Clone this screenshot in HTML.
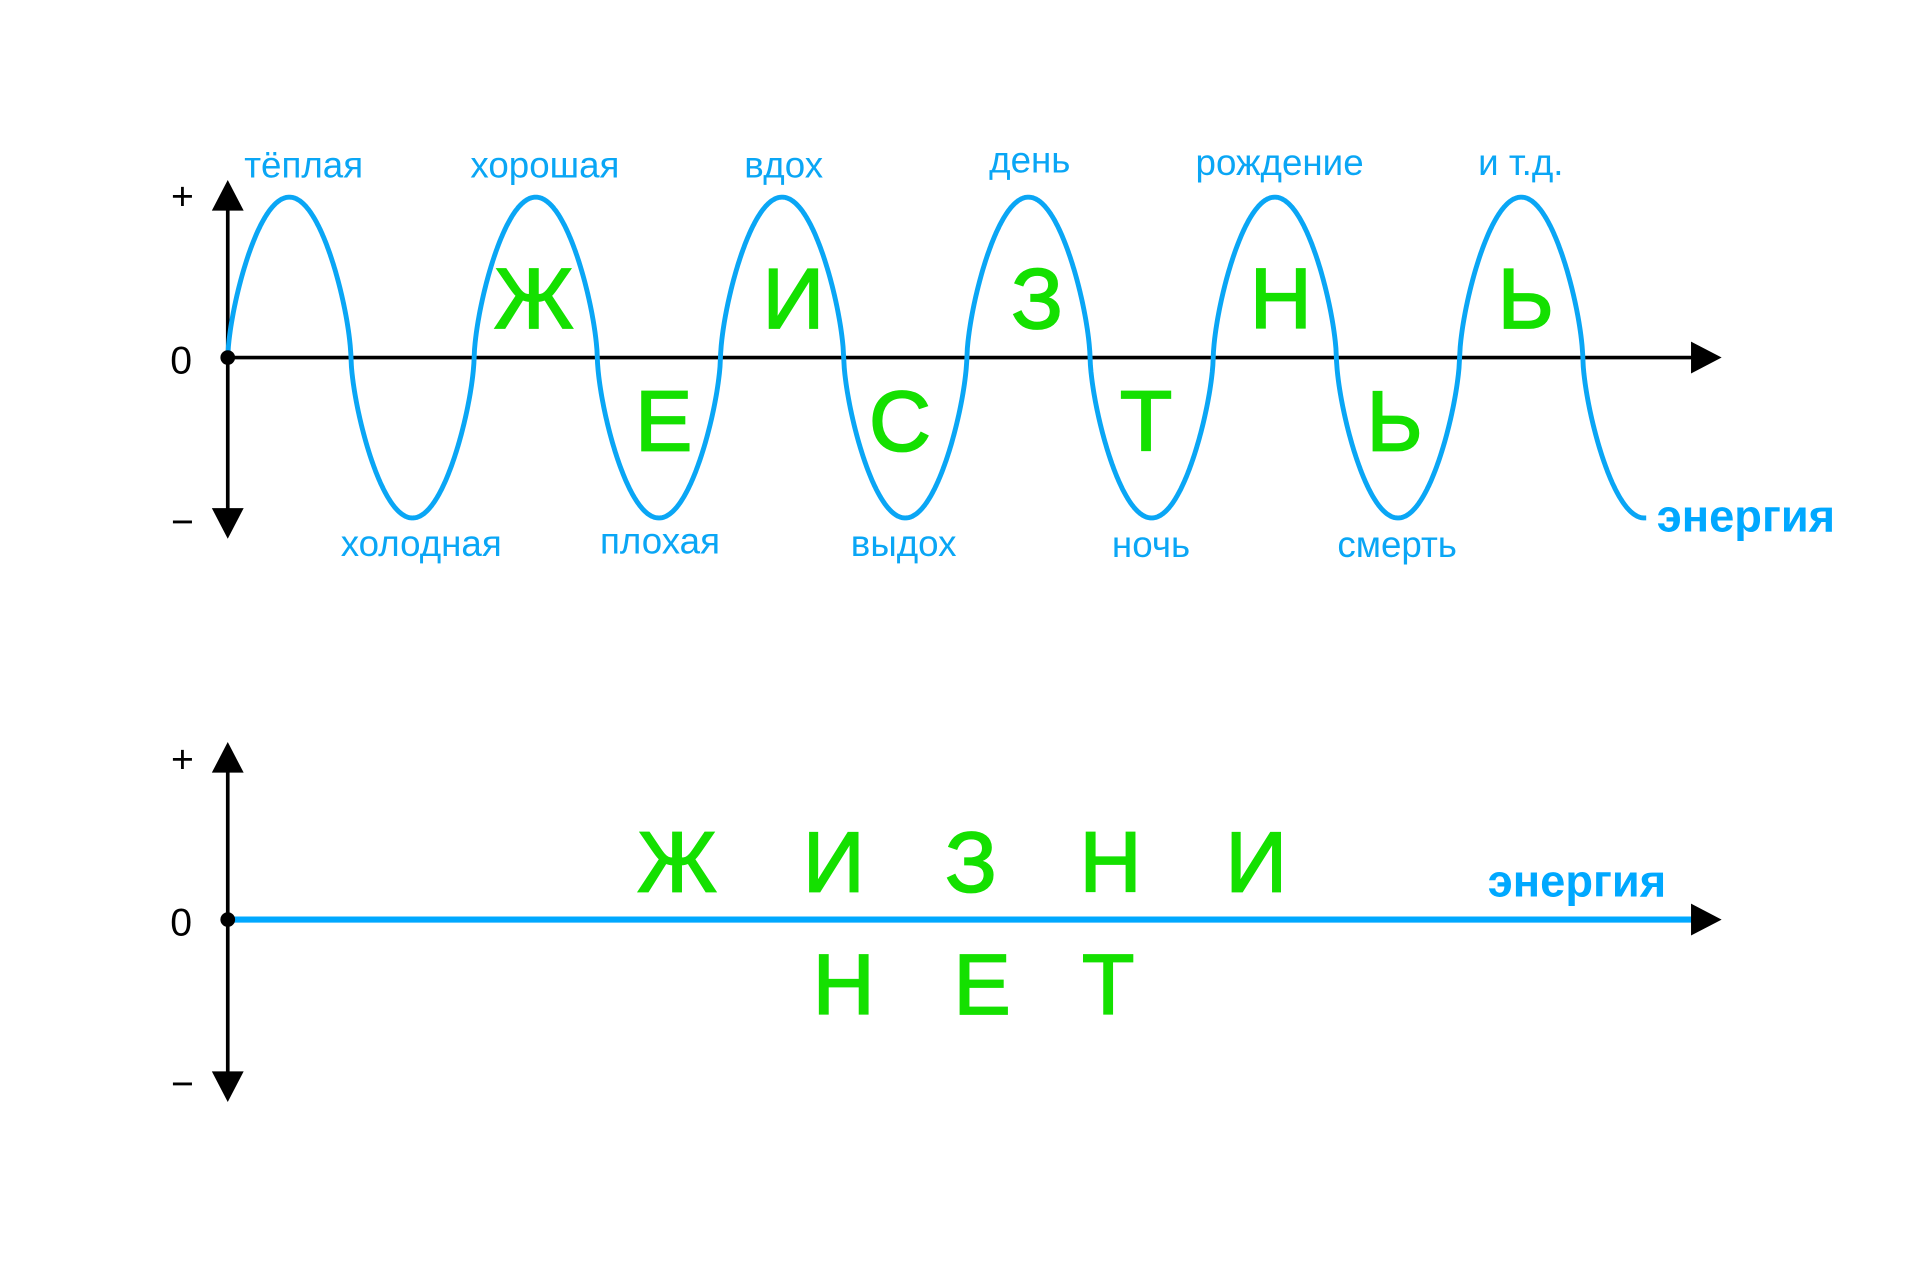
<!DOCTYPE html>
<html><head><meta charset="utf-8"><style>
html,body{margin:0;padding:0;background:#fff;}
svg{display:block;}
.b{font-family:"Liberation Sans",sans-serif;fill:#0aa6f5;font-size:30px;text-anchor:middle;}
.g{font-family:"Liberation Sans",sans-serif;fill:#14e000;stroke:#14e000;stroke-width:1.5;font-size:70px;font-weight:normal;text-anchor:middle;}
.k{font-family:"Liberation Sans",sans-serif;fill:#000;font-size:32px;text-anchor:middle;}
.e{font-family:"Liberation Sans",sans-serif;fill:#00a8ff;font-size:37px;font-weight:bold;}
</style></head><body>
<svg width="1920" height="1280" viewBox="0 0 1568 1045.33" preserveAspectRatio="none" xmlns="http://www.w3.org/2000/svg">
<line x1="186" y1="168" x2="186" y2="420" stroke="#000" stroke-width="3"/>
<polygon points="186,147 173,172 199,172" fill="#000"/>
<polygon points="186,440 173,415 199,415" fill="#000"/>
<line x1="186" y1="292" x2="1385" y2="292" stroke="#000" stroke-width="3"/>
<polygon points="1406,292 1381,279 1381,305" fill="#000"/>
<path id="wave" fill="none" stroke="#0aa6f5" stroke-width="4" d=""/>
<circle cx="186" cy="292" r="6" fill="#000"/>
<text class="k" x="149" y="171">+</text>
<text class="k" x="148" y="305">0</text>
<text class="k" x="149" y="437">−</text>
<text class="b" x="248" y="145">тёплая</text>
<text class="b" x="445" y="145">хорошая</text>
<text class="b" x="640" y="145">вдох</text>
<text class="b" x="841" y="141">день</text>
<text class="b" x="1045" y="143">рождение</text>
<text class="b" x="1242" y="143">и т.д.</text>
<text class="b" x="344" y="454">холодная</text>
<text class="b" x="539" y="452">плохая</text>
<text class="b" x="738" y="454">выдох</text>
<text class="b" x="940" y="455">ночь</text>
<text class="b" x="1141" y="455">смерть</text>
<text class="e" x="1353" y="434">энергия</text>
<text class="g" x="436" y="268">Ж</text>
<text class="g" x="648" y="268">И</text>
<text class="g" x="847" y="268">З</text>
<text class="g" x="1046" y="268">Н</text>
<text class="g" x="1246" y="268">Ь</text>
<text class="g" x="542" y="368">Е</text>
<text class="g" x="735" y="368">С</text>
<text class="g" x="936" y="368">Т</text>
<text class="g" x="1139" y="368">Ь</text>
<line x1="186" y1="625" x2="186" y2="880" stroke="#000" stroke-width="3"/>
<polygon points="186,606 173,631 199,631" fill="#000"/>
<polygon points="186,900 173,875 199,875" fill="#000"/>
<line x1="186" y1="751" x2="1385" y2="751" stroke="#00a8ff" stroke-width="5"/>
<polygon points="1406,751 1381,738 1381,764" fill="#000"/>
<circle cx="186" cy="751" r="6" fill="#000"/>
<text class="k" x="149" y="631">+</text>
<text class="k" x="148" y="764">0</text>
<text class="k" x="149" y="896">−</text>
<text class="e" x="1215" y="732">энергия</text>
<text class="g" x="553" y="728">Ж</text>
<text class="g" x="681" y="728">И</text>
<text class="g" x="793" y="728">З</text>
<text class="g" x="907" y="728">Н</text>
<text class="g" x="1026" y="728">И</text>
<text class="g" x="689" y="828">Н</text>
<text class="g" x="802" y="828">Е</text>
<text class="g" x="905" y="828">Т</text>
</svg>
<script>
(function(){
var h=100.6,A=131,x0=186,y0=292,d="";
var xe=x0+11.5*h;
for(var x=x0;x<=xe+0.01;x+=0.5){
var s=Math.sin(Math.PI*(x-x0)/h);
var v=(s<0?-1:1)*Math.pow(Math.abs(s),0.65);
var y=y0-A*v;
d+=(x===x0?"M":"L")+x.toFixed(1)+","+y.toFixed(1)+" ";
}
d+="L"+(xe+1.5).toFixed(1)+","+(y0+A).toFixed(1);
document.getElementById("wave").setAttribute("d",d);
})();
</script>
</body></html>
